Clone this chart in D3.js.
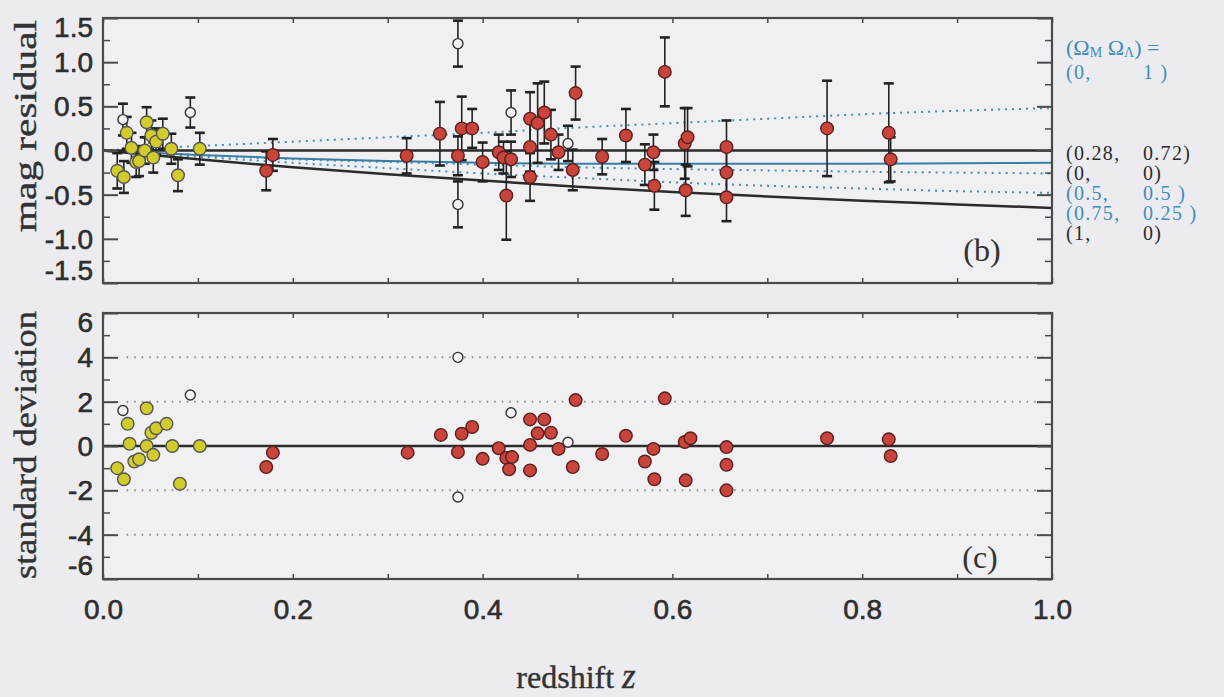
<!DOCTYPE html>
<html><head><meta charset="utf-8">
<script src="https://cdn.jsdelivr.net/npm/d3@7"></script>
<style>
html,body{margin:0;padding:0;background:#ecebef;}
svg{display:block;}
</style></head>
<body>
<svg id="chart" width="1224" height="697"></svg>
<script>
// ---------- data ----------
// top panel: [z, magnitude residual, error]
const lowZFilled = [
 [0.015,-0.23,0.20],[0.022,-0.30,0.18],[0.025,0.20,0.18],[0.030,0.03,0.17],
 [0.035,-0.13,0.17],[0.038,-0.12,0.17],[0.044,0.00,0.15],[0.046,0.32,0.17],
 [0.051,0.17,0.17],[0.053,-0.08,0.17],[0.056,0.10,0.15],[0.063,0.19,0.17],
 [0.072,0.02,0.17],[0.079,-0.28,0.18],[0.102,0.02,0.18]
];
const lowZOpen = [[0.021,0.35,0.18],[0.092,0.43,0.17]];
const highZFilled = [
 [0.172,-0.23,0.22],[0.179,-0.05,0.18],[0.320,-0.06,0.20],[0.355,0.19,0.36],
 [0.374,-0.06,0.22],[0.378,0.25,0.36],[0.389,0.25,0.22],[0.400,-0.13,0.22],
 [0.417,-0.02,0.20],[0.422,-0.08,0.18],[0.425,-0.51,0.50],[0.430,-0.10,0.20],
 [0.450,0.36,0.30],[0.450,0.04,0.28],[0.450,-0.30,0.27],[0.458,0.31,0.45],
 [0.465,0.43,0.35],[0.472,0.18,0.28],[0.480,-0.02,0.20],[0.495,-0.22,0.23],
 [0.498,0.65,0.30],[0.526,-0.07,0.20],[0.551,0.17,0.30],[0.571,-0.16,0.23],
 [0.580,-0.02,0.20],[0.581,-0.40,0.27],[0.592,0.89,0.39],[0.613,0.08,0.40],
 [0.616,0.15,0.33],[0.614,-0.45,0.29],[0.657,0.04,0.30],[0.657,-0.25,0.29],
 [0.657,-0.53,0.27],[0.763,0.25,0.54],[0.828,0.20,0.56],[0.830,-0.10,0.25]
];
const highZOpen = [[0.374,1.21,0.26],[0.374,-0.61,0.26],[0.430,0.43,0.25],[0.490,0.08,0.20]];

// bottom panel: [z, standard deviation]
const lowZSigma = [
 [0.015,-1.0],[0.022,-1.5],[0.026,1.0],[0.028,0.1],[0.033,-0.7],[0.038,-0.6],
 [0.046,1.7],[0.046,0.0],[0.051,0.6],[0.053,-0.4],[0.056,0.8],[0.067,1.0],
 [0.073,0.0],[0.081,-1.7],[0.102,0.0]
];
const lowZSigmaOpen = [[0.021,1.6],[0.092,2.3]];
const highZSigma = [
 [0.172,-0.95],[0.179,-0.3],[0.321,-0.3],[0.356,0.5],[0.374,-0.27],[0.378,0.55],
 [0.389,0.86],[0.400,-0.58],[0.417,-0.1],[0.425,-0.54],[0.431,-0.5],[0.428,-1.05],
 [0.450,1.2],[0.465,1.2],[0.458,0.57],[0.472,0.6],[0.450,0.05],[0.450,-1.1],
 [0.480,-0.13],[0.495,-0.95],[0.498,2.07],[0.526,-0.36],[0.551,0.46],[0.571,-0.7],
 [0.580,-0.13],[0.581,-1.5],[0.592,2.15],[0.613,0.18],[0.619,0.35],[0.614,-1.55],
 [0.657,-0.05],[0.657,-0.85],[0.657,-2.0],[0.763,0.35],[0.828,0.3],[0.830,-0.45]
];
const highZSigmaOpen = [[0.374,4.0],[0.430,1.5],[0.490,0.17],[0.374,-2.3]];

// model curves: z grid and residual per cosmology
const curveZ = [0,0.1,0.2,0.3,0.4,0.5,0.6,0.7,0.8,0.9,1.0];
const curveOM0OL1     = [0,0.05,0.10,0.15,0.20,0.26,0.31,0.36,0.41,0.45,0.48];
const curveOM028OL072 = [0,0,0,0,0,0,0,0,0,0,0];
const curveOM0OL0     = [0,-0.05,-0.09,-0.12,-0.14,-0.15,-0.15,-0.15,-0.15,-0.145,-0.14];
const curveOM05OL05   = [0,-0.05,-0.10,-0.13,-0.16,-0.19,-0.21,-0.225,-0.24,-0.25,-0.26];
const curveOM075OL025 = [0,-0.07,-0.14,-0.20,-0.26,-0.31,-0.36,-0.40,-0.43,-0.46,-0.48];
const curveOM1OL0     = [0,-0.10,-0.19,-0.27,-0.34,-0.41,-0.47,-0.52,-0.57,-0.61,-0.65];

const legendLabels = [
 ["(0,","1 )"],["(0.28,","0.72)"],["(0,","0)"],["(0.5,","0.5 )"],["(0.75,","0.25 )"],["(1,","0)"]
];

const xTicks = [0,0.2,0.4,0.6,0.8,1.0];
const xTickLabels = ["0.0","0.2","0.4","0.6","0.8","1.0"];
const topTicks = [-1.5,-1.0,-0.5,0,0.5,1.0,1.5];
const topTickLabels = ["-1.5","-1.0","-0.5","0.0","0.5","1.0","1.5"];
const botTicks = [-6,-4,-2,0,2,4,6];
const botTickLabels = ["-6","-4","-2","0","2","4","6"];
const sigmaGrid = [-4,-2,2,4];

// ---------- drawing ----------
const svg = d3.select("#chart");
const L = 103, R = 1052;
const x = d3.scaleLinear().domain([0,1]).range([L,R]);
const yT = d3.scaleLinear().domain([-1.5,1.5]).range([283,18]);
const yB = d3.scaleLinear().domain([-6,6]).range([579,313]);

const BLUE = "#3f8dbd", INK = "#2b2b2b", FRAME = "#4a4a4a";
const YEL = "#d2cb2c", RED = "#c9443a";
const SANS = "Liberation Sans, Arial, sans-serif";
const serif = "Liberation Serif, Times New Roman, serif";

function frame(top, bottom) {
  svg.append("rect").attr("x",L).attr("y",top).attr("width",R-L).attr("height",bottom-top)
    .attr("fill","#f0f0f2").attr("stroke","none");
}
function axes(y, top, bottom, major, majorLabels, minor, labelShift) {
  svg.append("g").attr("transform",`translate(${L},0)`)
    .call(d3.axisLeft(y).tickValues(minor).tickSize(-7).tickFormat(""))
    .call(g=>{g.select(".domain").remove(); g.selectAll("line").attr("stroke",FRAME).attr("stroke-width",1.5);});
  svg.append("g").attr("transform",`translate(${R},0)`)
    .call(d3.axisRight(y).tickValues(minor).tickSize(-7).tickFormat(""))
    .call(g=>{g.select(".domain").remove(); g.selectAll("line").attr("stroke",FRAME).attr("stroke-width",1.5);});
  svg.append("g").attr("transform",`translate(${L},0)`)
    .call(d3.axisLeft(y).tickValues(major).tickSize(-15).tickPadding(10)
      .tickFormat((d,i)=>majorLabels[i]))
    .call(g=>{
      g.select(".domain").remove();
      g.selectAll("line").attr("stroke",FRAME).attr("stroke-width",2);
      g.selectAll("text").attr("font-family",SANS)
        .attr("font-size",28).attr("fill","#2e2e2e").attr("stroke","#2e2e2e").attr("stroke-width",0.6)
        .attr("dy",(d,i)=> (i===major.length-1? labelShift[1] : i===0? labelShift[0] : 0)+"px")
        .attr("dominant-baseline","central");
    });
  svg.append("g").attr("transform",`translate(${R},0)`)
    .call(d3.axisRight(y).tickValues(major).tickSize(-15).tickFormat(""))
    .call(g=>{g.select(".domain").remove(); g.selectAll("line").attr("stroke",FRAME).attr("stroke-width",2);});
  const xMinor = d3.range(0,1.0001,0.1);
  svg.append("g").attr("transform",`translate(0,${top})`)
    .call(d3.axisTop(x).tickValues(xMinor).tickSize(-5).tickFormat(""))
    .call(g=>{g.select(".domain").remove(); g.selectAll("line").attr("stroke",FRAME).attr("stroke-width",1.5);});
  svg.append("g").attr("transform",`translate(0,${bottom})`)
    .call(d3.axisBottom(x).tickValues(xMinor).tickSize(-5).tickFormat(""))
    .call(g=>{g.select(".domain").remove(); g.selectAll("line").attr("stroke",FRAME).attr("stroke-width",1.5);});
}
function border(top,bottom){
  svg.append("rect").attr("x",L).attr("y",top).attr("width",R-L).attr("height",bottom-top)
    .attr("fill","none").attr("stroke",FRAME).attr("stroke-width",2.2);
}

// ===== top panel =====
frame(18,283);
const line = d3.line().curve(d3.curveMonotoneX);
const models = [
  {v:curveOM0OL1, c:BLUE, dash:"2,5", w:2},
  {v:curveOM05OL05, c:BLUE, dash:"2,5", w:2},
  {v:curveOM075OL025, c:BLUE, dash:"2,5", w:2},
  {v:curveOM0OL0, c:"#3a7ea6", dash:null, w:2},
  {v:curveOM028OL072, c:INK, dash:null, w:2.5},
  {v:curveOM1OL0, c:INK, dash:null, w:2.5}
];
models.forEach(m=>{
  svg.append("path").attr("d", line(curveZ.map((z,i)=>[x(z), yT(m.v[i])])))
    .attr("fill","none").attr("stroke",m.c).attr("stroke-width",m.w)
    .attr("stroke-dasharray",m.dash);
});

function errorBars(data){
  const g = svg.append("g").attr("stroke","#222").attr("stroke-width",1.6);
  data.forEach(d=>{
    const xx = x(d[0]), y1 = yT(d[1]+d[2]), y2 = yT(d[1]-d[2]);
    g.append("line").attr("x1",xx).attr("x2",xx).attr("y1",y1).attr("y2",y2);
    g.append("line").attr("x1",xx-5).attr("x2",xx+5).attr("y1",y1).attr("y2",y1).attr("stroke-width",2.6);
    g.append("line").attr("x1",xx-5).attr("x2",xx+5).attr("y1",y2).attr("y2",y2).attr("stroke-width",2.6);
  });
}
errorBars(lowZFilled); errorBars(lowZOpen); errorBars(highZFilled); errorBars(highZOpen);

function dots(data, y, fill, r, stroke){
  svg.append("g").selectAll("circle").data(data).join("circle")
    .attr("cx",d=>x(d[0])).attr("cy",d=>y(d[1])).attr("r",r)
    .attr("fill",fill).attr("stroke",stroke).attr("stroke-width",1.4);
}
dots(lowZFilled, yT, YEL, 6.3, "#555");
dots(highZFilled, yT, RED, 6.3, "#5a2020");
dots(lowZOpen, yT, "#f4f4f6", 5, "#333");
dots(highZOpen, yT, "#f4f4f6", 5, "#333");

axes(yT,18,283,topTicks,topTickLabels,d3.range(-1.25,1.3,0.5),[-13,9]);
border(18,283);

svg.append("text").attr("x",982).attr("y",250).attr("text-anchor","middle")
  .attr("dominant-baseline","central").attr("font-family",serif)
  .attr("font-size",32).attr("fill","#333").text("(b)");

// ===== bottom panel =====
frame(313,579);
sigmaGrid.forEach(s=>{
  svg.append("line").attr("x1",x(0.025)).attr("x2",x(0.99)).attr("y1",yB(s)).attr("y2",yB(s))
    .attr("stroke","#8a8a8a").attr("stroke-width",2).attr("stroke-dasharray","1.5,6");
});
svg.append("line").attr("x1",L).attr("x2",R).attr("y1",yB(0)).attr("y2",yB(0))
  .attr("stroke",INK).attr("stroke-width",2.5);

dots(lowZSigma, yB, YEL, 6.3, "#555");
dots(highZSigma, yB, RED, 6.3, "#5a2020");
dots(lowZSigmaOpen, yB, "#f4f4f6", 5, "#333");
dots(highZSigmaOpen, yB, "#f4f4f6", 5, "#333");

axes(yB,313,579,botTicks,botTickLabels,d3.range(-5,5.1,2),[-14,9]);
border(313,579);

svg.append("text").attr("x",980).attr("y",557).attr("text-anchor","middle")
  .attr("dominant-baseline","central").attr("font-family",serif)
  .attr("font-size",32).attr("fill","#333").text("(c)");

// x axis labels
svg.append("g").attr("transform",`translate(0,579)`)
  .call(d3.axisBottom(x).tickValues(xTicks).tickSize(0).tickPadding(20)
    .tickFormat((d,i)=>xTickLabels[i]))
  .call(g=>{g.select(".domain").remove();
    g.selectAll("text").attr("font-family",SANS)
      .attr("font-size",28).attr("fill","#2e2e2e").attr("stroke","#2e2e2e").attr("stroke-width",0.6);});

// axis titles
svg.append("text").attr("transform","translate(36,126) rotate(-90)").attr("text-anchor","middle")
  .attr("font-family",serif).attr("font-size",32).attr("fill","#333").attr("stroke","#333").attr("stroke-width",0.4)
  .attr("textLength",212).attr("lengthAdjust","spacingAndGlyphs").text("mag residual");
svg.append("text").attr("transform","translate(36,445) rotate(-90)").attr("text-anchor","middle")
  .attr("font-family",serif).attr("font-size",32).attr("fill","#333").attr("stroke","#333").attr("stroke-width",0.4)
  .attr("textLength",268).attr("lengthAdjust","spacingAndGlyphs").text("standard deviation");
const xt = svg.append("text").attr("x",576).attr("y",688).attr("text-anchor","middle")
  .attr("font-family",serif).attr("font-size",32).attr("fill","#333").attr("stroke","#333").attr("stroke-width",0.4);
xt.append("tspan").text("redshift  ");
xt.append("tspan").attr("font-style","italic").attr("font-size",35).text("z");

// legend
const lg = svg.append("g").attr("font-family",serif).attr("font-size",20);
const head = lg.append("text").attr("x",1066).attr("y",47).attr("fill",BLUE).attr("dominant-baseline","central")
  .attr("font-size",22);
head.append("tspan").text("(Ω");
head.append("tspan").attr("font-size",14).attr("dy",5).text("M");
head.append("tspan").attr("dy",-5).text("  Ω");
head.append("tspan").attr("font-size",14).attr("dy",5).text("Λ");
head.append("tspan").attr("dy",-5).text(") =");
const legY = [72,153,173,193,213,233];
const legC = [BLUE,INK,INK,BLUE,BLUE,INK];
legendLabels.forEach((p,i)=>{
  lg.append("text").attr("x",1066).attr("y",legY[i]).attr("fill",legC[i])
    .attr("dominant-baseline","central").attr("letter-spacing",1.3).text(p[0]);
  lg.append("text").attr("x",1143).attr("y",legY[i]).attr("fill",legC[i])
    .attr("dominant-baseline","central").attr("letter-spacing",1.3).text(p[1]);
});
</script>
</body></html>
